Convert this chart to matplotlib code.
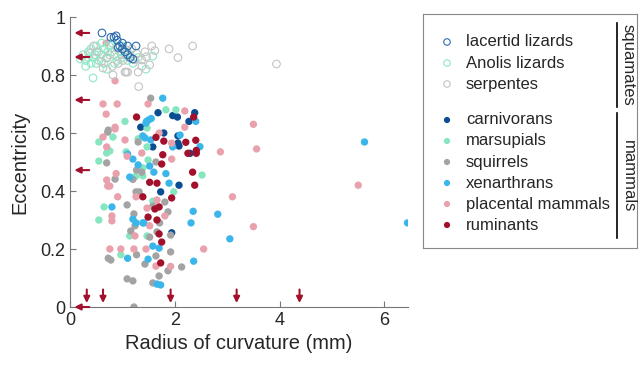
import numpy as np
import matplotlib.pyplot as plt

plt.rcParams['font.family'] = ['Liberation Sans', 'DejaVu Sans']

# squamates (open circles)
lacertid_x = [0.61, 0.78, 0.84, 0.88, 0.9, 0.92, 0.95, 1.0, 1.0, 1.05, 1.1, 1.1, 1.15, 1.2, 1.26]
lacertid_y = [0.945, 0.93, 0.93, 0.935, 0.92, 0.895, 0.9, 0.89, 0.91, 0.88, 0.87, 0.9, 0.86, 0.855, 0.9]

anolis_x = [0.25, 0.3, 0.35, 0.4, 0.45, 0.5, 0.55, 0.6, 0.65, 0.7, 0.75, 0.8, 0.85, 0.9, 0.95,
            1.0, 1.05, 1.1, 0.3, 0.5, 0.7, 0.44, 1.45, 1.58, 0.6, 0.8, 0.35, 0.55, 0.65, 0.85,
            1.2, 1.0, 0.4, 0.2, 0.48, 0.72, 0.9, 1.15, 1.3]
anolis_y = [0.87, 0.85, 0.88, 0.89, 0.86, 0.9, 0.88, 0.87, 0.89, 0.86, 0.9, 0.88, 0.87, 0.85, 0.88,
            0.86, 0.87, 0.85, 0.83, 0.84, 0.82, 0.79, 0.82, 0.865, 0.91, 0.91, 0.86, 0.85, 0.84, 0.84,
            0.84, 0.9, 0.84, 0.855, 0.87, 0.88, 0.9, 0.87, 0.86]

serp_x = [1.56, 1.62, 1.89, 2.06, 2.34, 1.52, 1.37, 0.63, 0.81, 1.05, 1.1, 1.3, 1.31, 0.82, 0.38,
          0.51, 0.6, 0.76, 0.89, 1.08, 1.14, 1.27, 1.43, 1.46, 1.01, 0.92, 1.37, 1.24, 0.7, 3.94,
          1.07, 0.45, 1.18, 0.98]
serp_y = [0.9, 0.884, 0.89, 0.86, 0.9, 0.835, 0.852, 0.824, 0.83, 0.81, 0.81, 0.81, 0.76, 0.8, 0.875,
          0.88, 0.846, 0.869, 0.893, 0.886, 0.863, 0.875, 0.88, 0.863, 0.85, 0.84, 0.83, 0.852, 0.858, 0.838,
          0.81, 0.9, 0.89, 0.87]

# mammals (filled)
carn_x = [1.68, 1.96, 2.05, 2.38, 2.27, 1.35, 1.79, 2.06, 2.06, 2.08, 2.29, 1.73, 2.08, 1.94, 1.58]
carn_y = [0.67, 0.66, 0.655, 0.67, 0.64, 0.62, 0.6, 0.59, 0.565, 0.555, 0.53, 0.397, 0.42, 0.256, 0.552]

mars_x = [1.05, 1.83, 2.02, 2.52, 1.98, 1.58, 1.47, 0.97, 0.55, 0.82, 0.76, 0.7, 0.55, 0.65, 0.55,
          1.14, 1.39, 1.39, 1.07, 1.47, 1.47, 1.49, 1.3, 1.25]
mars_y = [0.64, 0.68, 0.68, 0.455, 0.397, 0.365, 0.245, 0.18, 0.569, 0.586, 0.538, 0.531, 0.503, 0.345, 0.3,
          0.245, 0.452, 0.48, 0.535, 0.552, 0.617, 0.507, 0.58, 0.45]

squi_x = [1.54, 0.73, 1.92, 1.87, 2.13, 1.64, 1.81, 1.87, 1.58, 1.71, 1.92, 1.66, 1.52, 0.73, 0.78,
          1.27, 1.43, 1.64, 1.7, 1.09, 1.2, 1.58, 1.22, 0.72, 0.7, 0.86, 1.09, 1.22, 1.26, 1.32,
          1.24, 1.16, 1.2, 1.27, 1.37, 1.3]
squi_y = [0.72, 0.61, 0.19, 0.125, 0.138, 0.5, 0.362, 0.328, 0.348, 0.29, 0.248, 0.259, 0.241, 0.168, 0.162,
          0.18, 0.148, 0.176, 0.107, 0.097, 0.09, 0.083, 0.0, 0.603, 0.497, 0.441, 0.352, 0.321, 0.397, 0.397,
          0.28, 0.262, 0.44, 0.472, 0.465, 0.569]

xen_x = [1.77, 2.4, 1.46, 1.55, 5.62, 6.44, 2.82, 3.05, 2.35, 2.31, 2.36, 2.48, 2.1, 1.96, 1.52,
         1.6, 1.83, 1.89, 1.39, 1.7, 1.58, 1.1, 1.49, 1.66, 1.73, 0.8, 1.2, 1.26, 1.41, 1.14,
         1.3, 1.2, 1.1, 1.39, 1.43, 1.54, 1.45, 1.5]
xen_y = [0.72, 0.64, 0.64, 0.65, 0.569, 0.29, 0.32, 0.235, 0.33, 0.29, 0.158, 0.553, 0.593, 0.552, 0.486,
         0.465, 0.46, 0.427, 0.29, 0.203, 0.21, 0.168, 0.165, 0.079, 0.076, 0.345, 0.303, 0.29, 0.29, 0.448,
         0.49, 0.51, 0.527, 0.59, 0.583, 0.576, 0.634, 0.645]

plac_x = [0.69, 0.86, 0.63, 0.9, 0.69, 1.49, 2.19, 3.5, 0.86, 2.19, 5.5, 3.56, 2.87, 3.1, 3.5,
          2.55, 1.92, 1.94, 1.94, 1.66, 1.47, 1.81, 1.52, 1.45, 1.22, 0.97, 0.76, 1.64, 0.63, 0.86,
          0.7, 0.88, 0.7, 0.72, 0.76, 0.91, 0.8, 0.8, 1.26, 1.24, 1.09, 1.37, 1.05, 1.7]
plac_y = [0.91, 0.78, 0.7, 0.7, 0.665, 0.7, 0.676, 0.63, 0.62, 0.62, 0.42, 0.545, 0.535, 0.38, 0.277,
          0.2, 0.14, 0.565, 0.51, 0.369, 0.341, 0.314, 0.28, 0.2, 0.2, 0.2, 0.2, 0.141, 0.586, 0.614,
          0.552, 0.46, 0.438, 0.417, 0.417, 0.38, 0.314, 0.297, 0.38, 0.245, 0.52, 0.531, 0.576, 0.6]

rum_x = [1.27, 2.36, 2.41, 2.41, 2.25, 2.4, 2.21, 2.34, 2.38, 1.64, 1.79, 1.77, 1.75, 1.52, 1.66,
         1.94, 1.39, 1.62, 1.7, 1.49, 1.66, 1.7, 1.75, 1.73]
rum_y = [0.655, 0.655, 0.53, 0.54, 0.53, 0.575, 0.568, 0.465, 0.42, 0.585, 0.572, 0.525, 0.493, 0.43, 0.427,
         0.376, 0.38, 0.338, 0.345, 0.31, 0.3, 0.252, 0.224, 0.152]

arrow_y = [0.945, 0.862, 0.714, 0.472, 0.0]
arrow_x = [0.32, 0.63, 1.92, 3.18, 4.38]

open_groups = [
    ("lacertid lizards", lacertid_x, lacertid_y, "#2e6db0"),
    ("Anolis lizards", anolis_x, anolis_y, "#8ee8c4"),
    ("serpentes", serp_x, serp_y, "#c4c4c4"),
]
filled_groups = [
    ("carnivorans", carn_x, carn_y, "#0a4d92"),
    ("marsupials", mars_x, mars_y, "#86e6bf"),
    ("squirrels", squi_x, squi_y, "#a3a3a3"),
    ("xenarthrans", xen_x, xen_y, "#3bb6ea"),
    ("placental mammals", plac_x, plac_y, "#e8a1ad"),
    ("ruminants", rum_x, rum_y, "#a3102c"),
]
red = "#a3102c"

fig = plt.figure(figsize=(6.4, 3.66), dpi=100)
ax = fig.add_axes([70/640, 59/366, 338/640, 290/366])

for name, x, y, c in filled_groups:
    ax.scatter(x, y, s=28, color=c, edgecolors='none', zorder=2)
# anolis first, then snakes, lacertids on top
for k in [1, 2, 0]:
    name, x, y, c = open_groups[k]
    ax.scatter(x, y, s=30, facecolors='none', edgecolors=c, linewidths=0.8, zorder=3)

for yy in arrow_y:
    ax.annotate("", xy=(0.03, yy), xytext=(0.42, yy),
                arrowprops=dict(arrowstyle="-|>", color=red, lw=1.5, mutation_scale=9),
                annotation_clip=False, zorder=4)
for xx in arrow_x:
    ax.annotate("", xy=(xx, 0.004), xytext=(xx, 0.07),
                arrowprops=dict(arrowstyle="-|>", color=red, lw=1.5, mutation_scale=9),
                annotation_clip=False, zorder=4)

ax.set_xlim(0, 6.45)
ax.set_ylim(0, 1)
ax.set_xticks([0, 2, 4, 6])
ax.set_yticks([0, 0.2, 0.4, 0.6, 0.8, 1])
ax.set_yticklabels(["0", "0.2", "0.4", "0.6", "0.8", "1"])
ax.tick_params(direction='in', length=4, colors='#777777', labelcolor='#262626', labelsize=13)
for s in ['top', 'right']:
    ax.spines[s].set_visible(False)
for s in ['left', 'bottom']:
    ax.spines[s].set_color('#777777')
ax.set_xlabel("Radius of curvature (mm)", fontsize=14.5, color='#262626')
ax.set_ylabel("Eccentricity", fontsize=14.5, color='#262626', labelpad=8)

# legend box drawn by hand
lg = fig.add_axes([423/640, (366-248)/366, 214/640, 234/366])
lg.set_xlim(423, 637)
lg.set_ylim(248, 14)
lg.set_xticks([])
lg.set_yticks([])
for s in lg.spines.values():
    s.set_color('#888888')
rows = [42, 63, 84, 120, 141, 162, 183, 204, 225]
for i, (name, x, y, c) in enumerate(open_groups):
    lg.scatter([447], [rows[i]], s=22, facecolors='none', edgecolors=c, linewidths=0.8)
    lg.text(466, rows[i], name, va='center', ha='left', fontsize=12, color='#262626')
for i, (name, x, y, c) in enumerate(filled_groups):
    r = rows[i + 3]
    lg.scatter([447], [r], s=20, color=c, edgecolors='none')
    lg.text(466, r, name, va='center', ha='left', fontsize=12, color='#262626')
lg.plot([617, 617], [23, 107], color='black', lw=1.2)
lg.plot([617, 617], [113, 238], color='black', lw=1.2)
lg.text(628, 65, "squamates", rotation=-90, va='center', ha='center', fontsize=12, color='#262626')
lg.text(628, 176, "mammals", rotation=-90, va='center', ha='center', fontsize=12, color='#262626')

fig.savefig("out.png", dpi=100)
